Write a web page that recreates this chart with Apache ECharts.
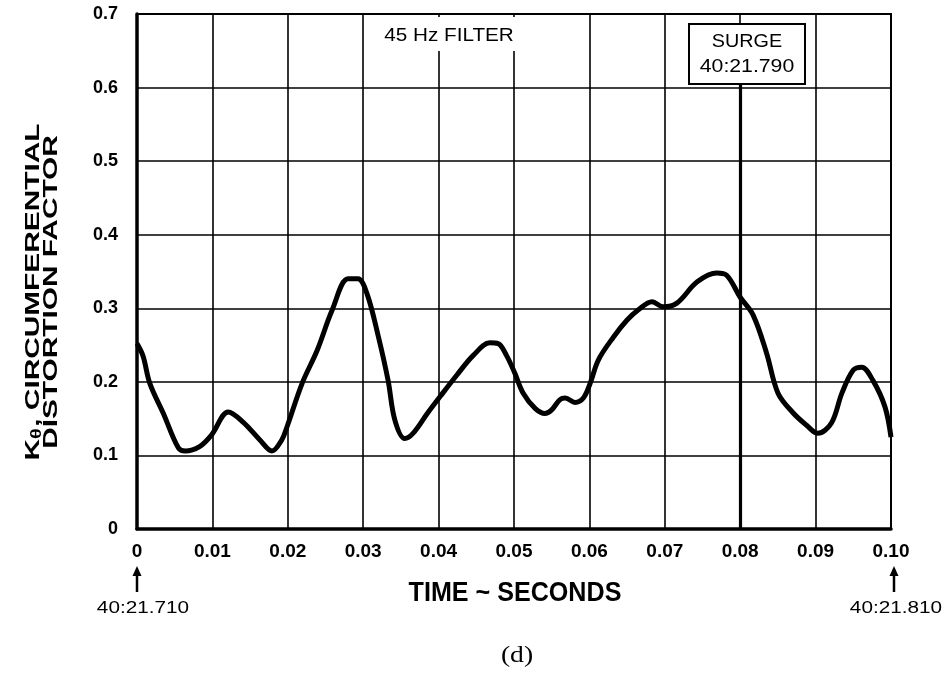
<!DOCTYPE html>
<html>
<head>
<meta charset="utf-8">
<script src="https://cdn.jsdelivr.net/npm/echarts@6/dist/echarts.min.js"></script>
<style>
  html, body { margin: 0; padding: 0; background: #fff; }
  #chart { width: 951px; height: 673px; }
</style>
</head>
<body>
<div id="chart"></div>
<script>
// ---- data ----
const timeSeconds = [
  0.0000, 0.0008, 0.0017, 0.0035, 0.0055, 0.0064, 0.0083, 0.0099, 0.0121, 0.0141,
  0.0163, 0.0179, 0.0192, 0.0199, 0.0219, 0.0239, 0.0259, 0.0280, 0.0293, 0.0305,
  0.0320, 0.0333, 0.0342, 0.0355, 0.0366, 0.0385, 0.0402, 0.0424, 0.0446, 0.0468,
  0.0479, 0.0490, 0.0501, 0.0512, 0.0528, 0.0541, 0.0550, 0.0561, 0.0568, 0.0581,
  0.0592, 0.0601, 0.0612, 0.0632, 0.0650, 0.0665, 0.0683, 0.0698, 0.0716, 0.0743,
  0.0769, 0.0782, 0.0800, 0.0817, 0.0835, 0.0850, 0.0870, 0.0888, 0.0903, 0.0921,
  0.0935, 0.0950, 0.0961, 0.0976, 0.0992, 0.1000
];
const distortionFactor = [
  0.252, 0.235, 0.198, 0.157, 0.110, 0.106, 0.112, 0.128, 0.159, 0.145,
  0.121, 0.106, 0.121, 0.139, 0.198, 0.243, 0.298, 0.340, 0.340, 0.320,
  0.262, 0.202, 0.148, 0.123, 0.130, 0.157, 0.180, 0.209, 0.236, 0.253,
  0.252, 0.236, 0.212, 0.185, 0.164, 0.157, 0.162, 0.176, 0.178, 0.172,
  0.178, 0.198, 0.230, 0.261, 0.284, 0.298, 0.309, 0.302, 0.307, 0.336,
  0.348, 0.345, 0.315, 0.291, 0.239, 0.185, 0.158, 0.141, 0.130, 0.144,
  0.185, 0.216, 0.220, 0.202, 0.166, 0.125
];
const xTickLabels = ['0', '0.01', '0.02', '0.03', '0.04', '0.05', '0.06', '0.07', '0.08', '0.09', '0.10'];
const yTickLabels = ['0', '0.1', '0.2', '0.3', '0.4', '0.5', '0.6', '0.7'];
const surgeTime = 0.08;
const surgeLineTop = 0.605;
const surgeText = ['SURGE', '40:21.790'];
const startStamp = '40:21.710';
const endStamp = '40:21.810';
const filterText = '45 Hz FILTER';

// ---- chart ----
const chart = echarts.init(document.getElementById('chart'), null, { renderer: 'canvas' });
const seriesData = timeSeconds.map((t, i) => [t, distortionFactor[i]]);
const FONT = '"Liberation Sans", Arial, Helvetica, sans-serif';

function arrow(x, yTop, yBot) {
  return [
    { type: 'line', z: 50, shape: { x1: x, y1: yBot, x2: x, y2: yTop + 6 }, style: { stroke: '#000', lineWidth: 2.5 } },
    { type: 'polygon', z: 50, shape: { points: [[x - 4.5, yTop + 9], [x, yTop - 1], [x + 4.5, yTop + 9]] }, style: { fill: '#000' } }
  ];
}

const option = {
  backgroundColor: '#fff',
  animation: false,
  grid: { left: 137, right: 60, top: 14, bottom: 144, show: true, borderColor: '#000', borderWidth: 2, backgroundColor: 'transparent' },
  xAxis: {
    type: 'value', min: 0, max: 0.1, interval: 0.01,
    axisLine: { show: true, onZero: false, lineStyle: { color: '#000', width: 3.5 } },
    axisTick: { show: false },
    splitLine: { show: true, lineStyle: { color: '#000', width: 1.6 } },
    axisLabel: {
      color: '#000', fontSize: 19, fontWeight: 'bold', fontFamily: FONT, margin: 13,
      formatter: v => xTickLabels[Math.round(v / 0.01)]
    }
  },
  yAxis: {
    type: 'value', min: 0, max: 0.7, interval: 0.1,
    axisLine: { show: true, onZero: false, lineStyle: { color: '#000', width: 3.5 } },
    axisTick: { show: false },
    splitLine: { show: true, lineStyle: { color: '#000', width: 1.6 } },
    axisLabel: {
      color: '#000', fontSize: 18, fontWeight: 'bold', fontFamily: FONT, margin: 19,
      formatter: v => yTickLabels[Math.round(v / 0.1)]
    }
  },
  series: [{
    type: 'line',
    data: seriesData,
    smooth: 0.35,
    showSymbol: false,
    symbol: 'none',
    lineStyle: { color: '#000', width: 5 },
    z: 10,
    markLine: {
      silent: true, symbol: 'none', animation: false,
      label: { show: false },
      lineStyle: { color: '#000', width: 3.2, type: 'solid' },
      data: [[{ coord: [surgeTime, 0] }, { coord: [surgeTime, surgeLineTop] }]]
    }
  }],
  graphic: [
    // 45 Hz FILTER label with white background
    { type: 'rect', z: 40, shape: { x: 376, y: 17, width: 147, height: 34 }, style: { fill: '#fff' } },
    { type: 'text', z: 41, x: 449, y: 36, scaleX: 1.15,
      style: { text: filterText, fill: '#000', font: '18px ' + FONT, align: 'center', verticalAlign: 'middle' } },
    // SURGE box
    { type: 'rect', z: 40, shape: { x: 689, y: 24, width: 116, height: 60 }, style: { fill: '#fff', stroke: '#000', lineWidth: 2 } },
    { type: 'text', z: 41, x: 747, y: 42, scaleX: 1.1,
      style: { text: surgeText[0], fill: '#000', font: '18px ' + FONT, align: 'center', verticalAlign: 'middle' } },
    { type: 'text', z: 41, x: 747, y: 67, scaleX: 1.18,
      style: { text: surgeText[1], fill: '#000', font: '18px ' + FONT, align: 'center', verticalAlign: 'middle' } },
    // Y axis title (rotated, two lines)
    { type: 'text', z: 41, x: 44, y: 292, rotation: Math.PI / 2, scaleX: 1.42,
      style: {
        text: '{b|K}{s|θ}{b|, CIRCUMFERENTIAL}\n{b|DISTORTION FACTOR}',
        align: 'center', verticalAlign: 'middle', fill: '#000',
        rich: {
          b: { fontSize: 21, fontWeight: 'bold', fontFamily: FONT, fill: '#000', lineHeight: 18, verticalAlign: 'bottom' },
          s: { fontSize: 14, fontWeight: 'bold', fontFamily: FONT, fill: '#000', lineHeight: 18, verticalAlign: 'bottom', padding: [0, 1, 0, 0] }
        }
      } },
    // X axis title
    { type: 'text', z: 41, x: 515, y: 594, scaleX: 0.93,
      style: { text: 'TIME ~ SECONDS', fill: '#000', font: 'bold 27px ' + FONT, align: 'center', verticalAlign: 'middle' } },
    // start / end time stamps with arrows
    ...arrow(137, 567, 592),
    ...arrow(894, 567, 592),
    { type: 'text', z: 41, x: 143, y: 608, scaleX: 1.22,
      style: { text: startStamp, fill: '#000', font: '17px ' + FONT, align: 'center', verticalAlign: 'middle' } },
    { type: 'text', z: 41, x: 896, y: 608, scaleX: 1.22,
      style: { text: endStamp, fill: '#000', font: '17px ' + FONT, align: 'center', verticalAlign: 'middle' } },
    // panel caption
    { type: 'text', z: 41, x: 517, y: 656, scaleX: 1.15,
      style: { text: '(d)', fill: '#000', font: '24px "Liberation Serif", "DejaVu Serif", serif', align: 'center', verticalAlign: 'middle' } }
  ]
};
chart.setOption(option);
</script>
</body>
</html>
